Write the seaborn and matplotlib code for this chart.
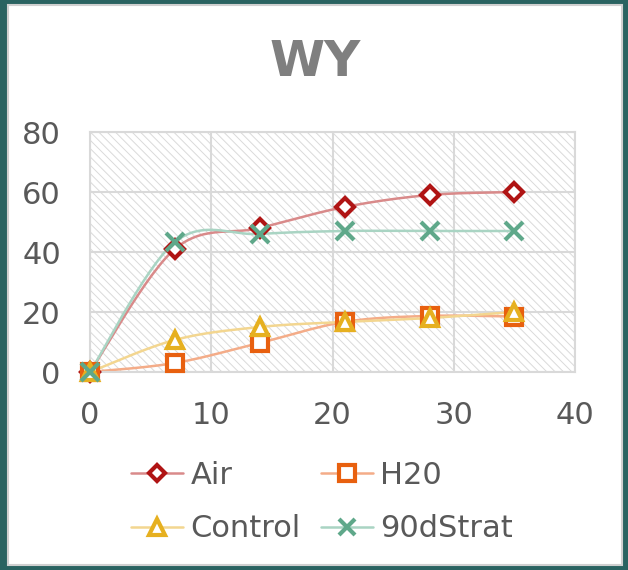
import matplotlib

matplotlib.use("Agg")
import matplotlib.pyplot as plt  # noqa: E402
import numpy as np  # noqa: E402
import pandas as pd  # noqa: E402
import seaborn as sns  # noqa: E402
from matplotlib.lines import Line2D  # noqa: E402
from matplotlib.patches import Rectangle  # noqa: E402

days = [0, 7, 14, 21, 28, 35]
air = [0, 41, 48, 55, 59, 60]
h20 = [0, 3, 9.7, 16.7, 18.7, 18.5]
control = [0, 10.7, 15, 16.7, 18, 20]
strat = [0, 43.3, 46, 47, 47, 47]

series_names = ["Air", "H20", "Control", "90dStrat"]
marker_colors = ["#B01414", "#E8600F", "#E6B020", "#5FA88A"]
line_colors = ["#D98A8A", "#F4AC88", "#F3D690", "#A9D4C3"]
markers = ["D", "s", "^", "x"]
marker_sizes = [9.5, 12, 12, 13]


def smooth(xs, ys, steps=30):
    """Catmull-Rom curve through the points, like a smoothed office chart line."""
    xs = np.asarray(xs, dtype=float)
    ys = np.asarray(ys, dtype=float)
    px = np.concatenate([[xs[0]], xs, [xs[-1]]])
    py = np.concatenate([[ys[0]], ys, [ys[-1]]])
    out_x, out_y = [], []
    t = np.linspace(0, 1, steps)
    for i in range(1, len(px) - 2):
        p0, p1, p2, p3 = [np.array([px[j], py[j]]) for j in (i - 1, i, i + 1, i + 2)]
        c1 = p1 + (p2 - p0) / 6
        c2 = p2 - (p3 - p1) / 6
        pts = ((1 - t) ** 3)[:, None] * p1 + (3 * (1 - t) ** 2 * t)[:, None] * c1 \
            + (3 * (1 - t) * t ** 2)[:, None] * c2 + (t ** 3)[:, None] * p2
        out_x.extend(pts[:, 0])
        out_y.extend(pts[:, 1])
    return np.array(out_x), np.array(out_y)


sns.set_theme(style="white")
plt.rcParams["font.family"] = ["DejaVu Sans"]
plt.rcParams["hatch.linewidth"] = 0.7
plt.rcParams["hatch.color"] = "#DADADA"

fig = plt.figure(figsize=(6.28, 5.70), dpi=100, facecolor="#2A6361")
fig.patches.append(Rectangle((8 / 628, 5 / 570), 614 / 628, 560 / 570, transform=fig.transFigure,
                             facecolor="white", edgecolor="#D0D0D0", linewidth=1.5, zorder=-5))
ax = fig.add_axes([90 / 628, (570 - 372) / 570, 485 / 628, 240 / 570])
ax.set_facecolor("white")
ax.add_patch(Rectangle((0, 0), 1, 1, transform=ax.transAxes, facecolor="none",
                       edgecolor="#DADADA", hatch="\\\\\\\\", linewidth=0, zorder=0))

data = {"Air": air, "H20": h20, "Control": control, "90dStrat": strat}
frames = []
for name in series_names:
    frames.append(pd.DataFrame({"day": days, "value": data[name], "series": name}))
df = pd.concat(frames, ignore_index=True)

for name, lc in zip(series_names, line_colors):
    sx, sy = smooth(days, data[name])
    ax.plot(sx, sy, color=lc, linewidth=1.8, zorder=2)

for i, name in enumerate(series_names):
    sub = df[df["series"] == name]
    if markers[i] == "x":
        ax.plot(sub["day"], sub["value"], linestyle="none", marker="x", markersize=marker_sizes[i],
                markeredgewidth=3, color=marker_colors[i], zorder=3, clip_on=False)
    else:
        ax.plot(sub["day"], sub["value"], linestyle="none", marker=markers[i],
                markersize=marker_sizes[i], markerfacecolor="white", markeredgewidth=3,
                markeredgecolor=marker_colors[i], zorder=3, clip_on=False)

ax.set_xlim(0, 40)
ax.set_ylim(0, 80)
ax.set_xticks([0, 10, 20, 30, 40])
ax.set_yticks([0, 20, 40, 60, 80])
ax.grid(True, color="#D9D9D9", linewidth=1.5)
ax.set_axisbelow(True)
for sp in ax.spines.values():
    sp.set_color("#D9D9D9")
    sp.set_linewidth(1.5)
ax.tick_params(axis="both", length=0, labelsize=22, labelcolor="#595959")
ax.tick_params(axis="x", pad=21)
ax.tick_params(axis="y", pad=21)
ax.set_xlabel("")
ax.set_ylabel("")

fig.text(315 / 628, 1 - 62 / 570, "WY", ha="center", va="center", fontsize=36,
         fontweight="bold", color="#7F7F7F")

handles = []
for i, name in enumerate(series_names):
    if markers[i] == "x":
        h = Line2D([], [], color=line_colors[i], linewidth=1.8, marker="x", markersize=marker_sizes[i] - 1,
                   markeredgewidth=3, markeredgecolor=marker_colors[i])
    else:
        h = Line2D([], [], color=line_colors[i], linewidth=1.8, marker=markers[i],
                   markersize=marker_sizes[i] - 1, markerfacecolor="white", markeredgewidth=3,
                   markeredgecolor=marker_colors[i])
    handles.append(h)
order = [0, 2, 1, 3]
fig.legend([handles[k] for k in order], [series_names[k] for k in order], ncol=2,
           loc="center", bbox_to_anchor=(322 / 628, 1 - 502 / 570), frameon=False,
           fontsize=22, labelcolor="#595959", handlelength=1.7, handletextpad=0.25,
           columnspacing=0.65, labelspacing=0.8)

fig.savefig("out.png", dpi=100, facecolor=fig.get_facecolor())
plt.close(fig)
